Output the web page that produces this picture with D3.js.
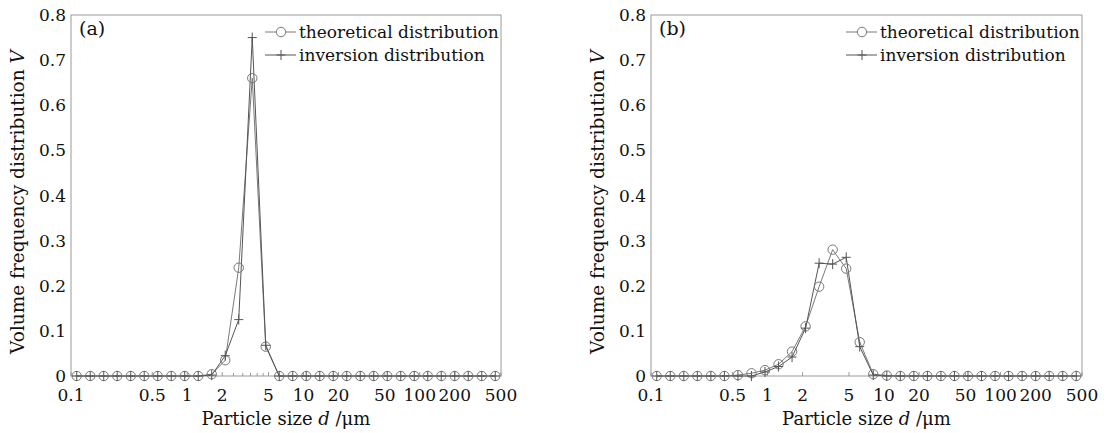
<!DOCTYPE html>
<meta charset="utf-8">
<script src="https://d3js.org/d3.v7.min.js"></script>
<style>
  body { margin: 0; background: #fff; }
  text { font-family: "DejaVu Serif", serif; fill: #111; }
</style>
<div id="chart"></div>
<script>
// particle sizes (um) of the 32 size classes
var sizes = [0.112, 0.1463, 0.1912, 0.2498, 0.3264, 0.4265, 0.5572, 0.7281,
  0.9513, 1.243, 1.624, 2.122, 2.773, 3.623, 4.734, 6.185, 8.081, 10.56,
  13.80, 18.03, 23.55, 30.78, 40.21, 52.54, 68.65, 89.70, 117.2, 153.1,
  200.1, 261.4, 341.6, 446.3]

// panel (a)
var theoA = [0, 0, 0, 0, 0, 0, 0, 0, 0, 0, 0.004, 0.035, 0.24, 0.66, 0.065, 0,
  0, 0, 0, 0, 0, 0, 0, 0, 0, 0, 0, 0, 0, 0, 0, 0]
var invA = [0, 0, 0, 0, 0, 0, 0, 0, 0, 0, 0.002, 0.045, 0.125, 0.75, 0.068, 0,
  0, 0, 0, 0, 0, 0, 0, 0, 0, 0, 0, 0, 0, 0, 0, 0]

// panel (b)
var theoB = [0, 0, 0, 0, 0, 0, 0.002, 0.006, 0.013, 0.026, 0.054, 0.11, 0.198, 0.28, 0.238, 0.075,
  0.004, 0.001, 0, 0, 0, 0, 0, 0, 0, 0, 0, 0, 0, 0, 0, 0]
var invB = [0, 0, 0, 0, 0, 0, 0, 0, 0.009, 0.021, 0.042, 0.106, 0.25, 0.248, 0.263, 0.065,
  0.002, 0, 0, 0, 0, 0, 0, 0, 0, 0, 0, 0, 0, 0, 0, 0]

var xTicks = [0.1, 0.5, 1, 2, 5, 10, 20, 50, 100, 200, 500]
var xTickLabels = ["0.1", "0.5", "1", "2", "5", "10", "20", "50", "100", "200", "500"]
var xMinorA = [2.5, 3, 3.5, 4, 4.5]
var yTicks = [0, 0.1, 0.2, 0.3, 0.4, 0.5, 0.6, 0.7, 0.8]
var legendNames = ["theoretical distribution", "inversion distribution"]

var width = 1110, height = 433
var plotTop = 15, plotBottom = 376

var svg = d3.select("#chart").append("svg")
  .attr("width", width)
  .attr("height", height)

svg.append("rect").attr("width", width).attr("height", height).attr("fill", "#fff")

var plusPath = "M-4.5,0H4.5M0,-5V5"

function drawPanel(left, right, theo, inv, tag, minor) {
  var x = d3.scaleLog().domain([0.1, 500]).range([left, right])
  var y = d3.scaleLinear().domain([0, 0.8]).range([plotBottom, plotTop])
  var g = svg.append("g")

  // frame
  g.append("rect")
    .attr("x", left).attr("y", plotTop)
    .attr("width", right - left).attr("height", plotBottom - plotTop)
    .attr("fill", "none").attr("stroke", "#9a9a9a").attr("stroke-width", 1)

  // x ticks (inside) and labels
  g.selectAll(".xt").data(xTicks).enter().append("line")
    .attr("x1", function(d) { return x(d) }).attr("x2", function(d) { return x(d) })
    .attr("y1", plotBottom).attr("y2", plotBottom - 4)
    .attr("stroke", "#9a9a9a")
  g.selectAll(".xm").data(minor).enter().append("line")
    .attr("x1", function(d) { return x(d) }).attr("x2", function(d) { return x(d) })
    .attr("y1", plotBottom).attr("y2", plotBottom - 3)
    .attr("stroke", "#9a9a9a")
  g.selectAll(".xl").data(xTicks).enter().append("text")
    .attr("x", function(d) { return x(d) })
    .attr("y", 401)
    .attr("text-anchor", "middle")
    .style("font-size", "17px")
    .text(function(d, i) { return xTickLabels[i] })

  // y labels
  g.selectAll(".yl").data(yTicks).enter().append("text")
    .attr("x", left - 5)
    .attr("y", function(d) { return y(d) + 6 })
    .attr("text-anchor", "end")
    .style("font-size", "17px")
    .text(function(d) { return d === 0 ? "0" : d3.format(".1f")(d) })

  // axis titles
  var xt = g.append("text")
    .attr("x", (left + right) / 2).attr("y", 425)
    .attr("text-anchor", "middle")
    .style("font-size", "18px")
  xt.append("tspan").text("Particle size ")
  xt.append("tspan").style("font-style", "italic").text("d")
  xt.append("tspan").text(" /\u03bcm")

  var yt = g.append("text")
    .attr("transform", "translate(" + (left - 47) + "," + 202 + ") rotate(-90)")
    .attr("text-anchor", "middle")
    .style("font-size", "18.5px")
  yt.append("tspan").text("Volume frequency distribution ")
  yt.append("tspan").style("font-style", "italic").text("V")

  g.append("text")
    .attr("x", left + 8).attr("y", 35)
    .style("font-size", "19px")
    .text(tag)

  // lines
  var line = d3.line()
    .x(function(d) { return x(d[0]) })
    .y(function(d) { return y(d[1]) })

  var theoPts = sizes.map(function(s, i) { return [s, theo[i]] })
  var invPts = sizes.map(function(s, i) { return [s, inv[i]] })

  g.append("path").datum(theoPts)
    .attr("d", line).attr("fill", "none")
    .attr("stroke", "#7a7a7a").attr("stroke-width", 1)
  g.append("path").datum(invPts)
    .attr("d", line).attr("fill", "none")
    .attr("stroke", "#555").attr("stroke-width", 1)

  g.selectAll(".c").data(theoPts).enter().append("circle")
    .attr("cx", function(d) { return x(d[0]) })
    .attr("cy", function(d) { return y(d[1]) })
    .attr("r", 4.7)
    .attr("fill", "none").attr("stroke", "#777").attr("stroke-width", 1)
  g.selectAll(".p").data(invPts).enter().append("path")
    .attr("transform", function(d) { return "translate(" + x(d[0]) + "," + y(d[1]) + ")" })
    .attr("d", plusPath)
    .attr("fill", "none").attr("stroke", "#555").attr("stroke-width", 1)

  // legend
  var tx = right - 202
  var rows = [32, 55]
  legendNames.forEach(function(name, i) {
    g.append("line")
      .attr("x1", tx - 34).attr("x2", tx - 3)
      .attr("y1", rows[i]).attr("y2", rows[i])
      .attr("stroke", i === 0 ? "#7a7a7a" : "#555")
    if (i === 0) {
      g.append("circle").attr("cx", tx - 18).attr("cy", rows[i]).attr("r", 4.7)
        .attr("fill", "#fff").attr("stroke", "#777")
    } else {
      g.append("path").attr("transform", "translate(" + (tx - 18) + "," + rows[i] + ")")
        .attr("d", plusPath).attr("fill", "none").attr("stroke", "#555")
    }
    g.append("text")
      .attr("x", tx).attr("y", rows[i] + 6)
      .style("font-size", "17px")
      .text(name)
  })
}

drawPanel(71, 501, theoA, invA, "(a)", xMinorA)
drawPanel(651, 1082, theoB, invB, "(b)", [])
</script>
